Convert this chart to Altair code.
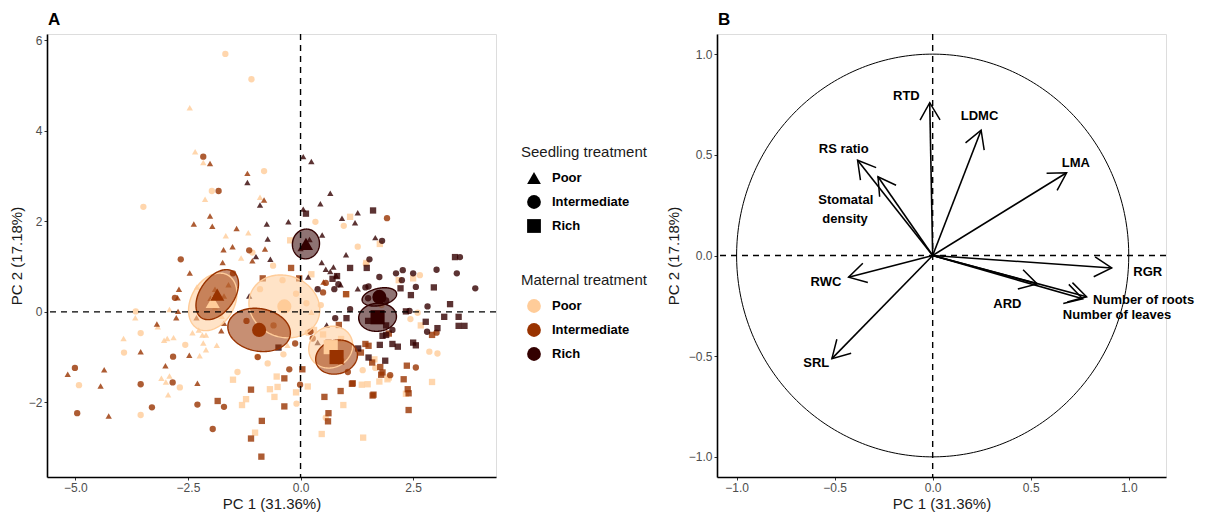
import altair as alt
import numpy as np
import pandas as pd

MATERNAL = ["Poor", "Intermediate", "Rich"]
MAT_COLORS = ["#FFCC99", "#993300", "#330000"]
# trailing spaces keep the two legends apart (their domains must differ) while printing the same words
SEEDLING = ["Poor ", "Intermediate ", "Rich "]
SEED_SHAPES = ["triangle-up", "circle", "square"]

# ---------------- Panel A: individual scores (PC1, PC2) ----------------
# maternal Poor
pp_tri_x = [-2.46, -2.34, -2.16, -2.12, -0.90, -1.66, -1.16, -1.32, -2.91, -3.67, -3.93, -3.03, -2.96, -2.82, -2.40, -2.18,
            -2.16, -2.10, -2.24, -3.09, -2.99, -2.91, -2.94, -2.26, -1.86, -2.10, -0.29, 0.24, -3.17, -1.90, -1.75, -2.30]
pp_tri_y = [4.51, 3.54, 3.30, 2.49, 2.53, 1.68, 1.75, 1.19, 0.05, -0.13, -0.59, -0.63, -0.59, -0.57, -0.46, -0.51,
            -0.69, -0.84, -0.97, -1.47, -1.55, -1.42, -1.83, -0.40, -0.74, -0.51, -0.74, -0.01, -0.33, 0.10, -0.10, 0.55]
pp_cir_x = [-1.67, -1.09, -0.81, -1.97, -3.49, 0.33, 0.96, 1.27, -1.07, -0.61, -3.66, -3.55, -3.92, -2.56, -2.68, -4.92,
            -3.55, -0.38, -0.96, -0.73, -1.40, -0.09, 0.56, 0.16, 0.13, 1.45, 2.65, 1.80, 2.60, 2.44, 2.86, 3.04, 1.66,
            1.38, -0.40, -0.90, -0.10, 0.45]
pp_cir_y = [5.70, 5.14, 3.11, 2.67, 2.32, 1.99, 1.90, 1.44, 1.31, 1.02, 0.01, -0.47, -0.90, -0.73, -1.67, -1.62,
            -2.28, -0.94, -0.99, -1.14, -1.33, -2.03, -2.34, -0.46, 0.19, 1.06, 0.81, 0.15, -0.02, -0.16, -0.88, -0.92,
            -1.24, -1.29, 0.70, 0.50, 0.40, 0.15]
pp_sq_x = [1.10, 1.76, -0.23, 1.46, 2.50, 2.18, 0.24, 1.02, 2.67, 2.92, 1.75, 1.93, 1.96, 1.36, 1.49, 2.34, 0.95, 1.39,
           -1.50, -0.53, -0.68, -0.51, -1.21, -1.30, -0.58, -0.10, -1.01, 0.16, 0.47, 1.64, 0.50, 0.90, 0.30]
pp_sq_y = [2.10, 1.50, 1.58, 1.08, 0.74, 0.70, 0.83, 0.39, -0.30, -1.55, -1.54, -1.49, -1.45, -1.61, -1.60, -1.81,
           -2.06, -2.78, -1.50, -1.43, -1.71, -1.66, -1.93, -2.06, -1.88, -1.78, -2.67, -1.65, -2.70, -1.05, -0.50,
           -0.60, -0.40]
# maternal Intermediate
pi_tri_x = [-2.01, -1.18, -0.81, -2.01, -2.37, -1.96, -1.42, -1.71, -1.51, -0.79, -1.07, -1.73, -2.46, -2.70, -2.73,
            -2.72, -3.19, -2.76, -2.31, -3.55, -2.47, -5.17, -4.36, -3.00, -4.44, -2.29, -4.26, -1.76, -1.70, 0.51,
            -1.90, -2.00, -1.70, -1.60]
pi_tri_y = [3.28, 3.06, 2.47, 2.12, 1.94, 1.89, 1.84, 1.37, 1.44, 1.39, 1.13, 1.09, 0.86, 0.50, 0.31, 0.01, -0.27,
            -0.13, -0.13, -0.88, -0.96, -1.38, -1.28, -1.19, -1.64, -1.58, -2.30, -0.42, -0.25, 0.66, 0.50, 0.30,
            0.35, 0.60]
pi_cir_x = [-2.16, -1.82, -1.14, -2.66, -1.50, -2.79, -2.83, -5.01, -3.55, -2.84, -4.96, -3.30, -2.29, -1.70, -1.95,
            -0.95, -0.12, -0.25, -0.01, 1.92, 0.50, 0.56, 0.22, 0.27, 1.05, 1.99, 2.56, 3.02, -0.60, -1.20]
pi_cir_y = [3.43, 2.67, 1.36, 1.16, 0.85, 0.31, -0.99, -1.24, -1.60, -1.56, -2.24, -2.11, -2.05, -2.10, -2.59, -1.00,
            -0.70, -1.27, -1.61, 2.07, 0.43, 0.64, -0.44, -0.59, -1.33, -1.40, -1.23, -0.46, -0.30, -0.20]
pi_sq_x = [-0.21, -0.84, -0.03, 1.01, 0.85, 0.62, -0.36, -1.10, -1.84, -0.36, -0.86, -1.10, -0.87, 0.04, 0.53, 0.62,
           0.61, 0.89, 1.14, 1.60, 2.40, 2.38, 2.40, 2.29, 2.36, 1.62, 1.16, 1.79, 1.82, 1.77, 1.59, 1.34, 1.44, 1.51,
           1.96, 2.92, 0.70, 0.90]
pi_sq_y = [0.97, 0.74, 0.74, 0.39, -0.29, -0.68, -1.47, -1.72, -1.97, -2.09, -2.41, -2.80, -3.20, -1.27, -1.88, -2.24,
           -2.42, -1.75, -1.59, -1.85, -2.17, -1.71, -1.80, -1.49, -1.19, -1.83, -1.58, -1.39, -1.34, -1.22, -1.12,
           -0.90, -0.71, -0.75, -0.48, -0.51, -0.85, -1.10]
# maternal Rich
pr_tri_x = [-1.18, -0.90, -0.75, -0.73, -0.27, -0.99, -0.67, -1.14, 0.06, 0.24, 0.66, 0.44, 0.06, 0.92, 1.27, 1.21,
            1.66, 1.01, 0.48, 0.47, 0.56, 0.66, 0.73, 0.79, 0.17, 1.27, 0.89, 0.58, 0.38, 0.00, 0.20]
pr_tri_y = [2.86, 2.36, 1.94, 1.61, 1.99, 1.22, 1.16, 0.35, 3.43, 3.32, 2.62, 2.39, 2.27, 2.07, 2.19, 1.97, 1.64,
            1.26, 1.70, 1.09, 0.94, 0.89, 0.99, 0.80, 0.77, 0.51, 0.60, -0.29, -0.68, 1.40, 1.60]
pr_cir_x = [0.38, 0.77, 1.81, 1.53, 3.02, 3.47, 3.88, 2.27, 2.12, 2.50, 2.56, 2.25, 1.75, 2.82, 1.44, 1.51, 1.10,
            2.42, 2.81, 2.04, 0.84, 0.75, 3.54, 1.90, 1.50]
pr_cir_y = [0.50, -0.14, 1.57, 1.16, 0.93, 0.85, 0.52, 0.92, 0.85, 0.85, 0.55, 0.70, 0.77, 0.12, 0.54, 0.56, 0.06,
            0.02, -0.44, -0.40, 0.61, 0.50, 1.21, 0.25, 0.30]
pr_sq_x = [0.12, 1.61, 1.47, 1.10, 3.43, 2.45, 2.96, 2.22, 3.32, 1.02, 3.19, 3.51, 3.51, 3.64, 2.78, 3.04, 1.82, 1.90,
           2.04, 2.16, 1.76, 2.50, 2.56, 1.28, 1.51, 1.88, 2.34, 0.71, 0.81, -0.49, 1.50, 1.90]
pr_sq_y = [2.17, 2.24, 0.97, 0.97, 1.21, 0.37, 0.54, 0.52, 0.17, -0.14, -0.11, -0.11, -0.31, -0.31, -0.22, -0.36,
           -0.53, -0.51, -0.71, -0.77, -0.73, -0.68, -0.74, -0.81, -1.01, -1.08, 0.01, 0.73, 0.79, -0.79, -0.20, -0.30]

# group ellipses and centroids
ell_maternal = ["Poor", "Poor", "Poor", "Intermediate", "Intermediate", "Intermediate", "Rich", "Rich", "Rich"]
ell_seedling = ["Poor ", "Intermediate ", "Rich ", "Poor ", "Intermediate ", "Rich ", "Poor ", "Intermediate ", "Rich "]
ell_cx = [-1.95, -0.36, 0.67, -1.85, -0.92, 0.80, 0.12, 1.75, 1.71]
ell_cy = [0.22, 0.12, -0.78, 0.38, -0.40, -1.00, 1.50, 0.33, -0.12]
ell_a = [0.68, 0.80, 0.50, 0.62, 0.70, 0.47, 0.33, 0.39, 0.42]
ell_b = [0.48, 0.68, 0.45, 0.38, 0.47, 0.37, 0.30, 0.19, 0.31]
ell_angle = [60, -20, 30, 55, -10, 15, 80, 12, 5]

# ---------------- Panel B: variable loadings ----------------
var_names = ["RTD", "LDMC", "LMA", "RS ratio", "Stomatal density", "RGR", "Number of roots",
             "Number of leaves", "ARD", "RWC", "SRL"]
load_x = [-0.015, 0.247, 0.683, -0.383, -0.279, 0.913, 0.785, 0.765, 0.533, -0.429, -0.514]
load_y = [0.759, 0.622, 0.411, 0.473, 0.391, -0.062, -0.205, -0.215, -0.141, -0.108, -0.512]
lab_text = ["RTD", "LDMC", "LMA", "RS ratio", "Stomatal", "density", "RGR", "Number of roots", "Number of leaves",
            "ARD", "RWC", "SRL"]
lab_x = [-0.134, 0.239, 0.73, -0.454, -0.443, -0.447, 1.097, 0.818, 0.664, 0.381, -0.544, -0.594]
lab_y = [0.793, 0.693, 0.46, 0.531, 0.275, 0.18, -0.081, -0.219, -0.294, -0.241, -0.133, -0.534]
lab_align = ["center", "center", "center", "center", "center", "center", "center", "left", "left", "center",
             "center", "center"]

# ---------------- layout constants ----------------
W, H = 449, 443
AX_DOM = [-5.63, 4.34]
AY_DOM = [-3.65, 6.14]
BX_DOM = [-1.10, 1.19]
BY_DOM = [-1.10, 1.10]
FONT = "Liberation Sans"

# ---------------- build panel A data ----------------
groups = [
    ("Poor", SEEDLING[0], pp_tri_x, pp_tri_y), ("Poor", SEEDLING[1], pp_cir_x, pp_cir_y),
    ("Poor", SEEDLING[2], pp_sq_x, pp_sq_y),
    ("Intermediate", SEEDLING[0], pi_tri_x, pi_tri_y), ("Intermediate", SEEDLING[1], pi_cir_x, pi_cir_y),
    ("Intermediate", SEEDLING[2], pi_sq_x, pi_sq_y),
    ("Rich", SEEDLING[0], pr_tri_x, pr_tri_y), ("Rich", SEEDLING[1], pr_cir_x, pr_cir_y),
    ("Rich", SEEDLING[2], pr_sq_x, pr_sq_y),
]
rows = []
for m, s, xs, ys in groups:
    for xv, yv in zip(xs, ys):
        rows.append({"pc1": xv, "pc2": yv, "maternal": m, "seedling": s})
pts = pd.DataFrame(rows)

fill_rows, edge_rows = [], []
for gid, (m, s, cx, cy, a, b, ang) in enumerate(zip(ell_maternal, ell_seedling, ell_cx, ell_cy, ell_a, ell_b,
                                                     ell_angle)):
    th = np.radians(ang)
    c, sn = np.cos(th), np.sin(th)
    A = sn ** 2 / a ** 2 + c ** 2 / b ** 2
    hw = np.sqrt(a ** 2 * c ** 2 + b ** 2 * sn ** 2)
    u = -hw * np.cos(np.linspace(0, np.pi, 120))
    B = 2 * u * sn * c * (1 / a ** 2 - 1 / b ** 2)
    C = u ** 2 * (c ** 2 / a ** 2 + sn ** 2 / b ** 2) - 1
    disc = np.sqrt(np.clip(B ** 2 - 4 * A * C, 0, None))
    v1 = (-B - disc) / (2 * A)
    v2 = (-B + disc) / (2 * A)
    for uu, a1, a2 in zip(u, v1, v2):
        fill_rows.append({"pc1": cx + uu, "pc2": cy + a1, "pc2b": cy + a2, "maternal": m, "gid": gid})
    t = np.linspace(0, 2 * np.pi, 161)
    for k, tt in enumerate(t):
        ex = cx + a * c * np.cos(tt) - b * sn * np.sin(tt)
        ey = cy + a * sn * np.cos(tt) + b * c * np.sin(tt)
        edge_rows.append({"pc1": ex, "pc2": ey, "maternal": m, "gid": gid, "k": k})
ell_fill = pd.DataFrame(fill_rows)
ell_edge = pd.DataFrame(edge_rows)
cent = pd.DataFrame({"pc1": ell_cx, "pc2": ell_cy, "maternal": ell_maternal, "seedling": ell_seedling})

axis_common = dict(grid=False, domainColor="black", domainWidth=1.6, tickColor="#333333", tickSize=3,
                   tickWidth=1, labelColor="#4D4D4D", labelFontSize=12, labelFont=FONT, titleFont=FONT,
                   titleFontSize=15, titleFontWeight="normal", titleColor="#1A1A1A", labelPadding=2)

xA = alt.X("pc1:Q", scale=alt.Scale(domain=AX_DOM, nice=False, zero=False),
           axis=alt.Axis(values=[-5, -2.5, 0, 2.5], format=".1f", title="PC 1 (31.36%)", titlePadding=3,
                         **axis_common))
yA = alt.Y("pc2:Q", scale=alt.Scale(domain=AY_DOM, nice=False, zero=False),
           axis=alt.Axis(values=[-2, 0, 2, 4, 6], format="d", title="PC 2 (17.18%)", titlePadding=4,
                         **axis_common))
col_scale = alt.Scale(domain=MATERNAL, range=MAT_COLORS)
shp_scale = alt.Scale(domain=SEEDLING, range=SEED_SHAPES)

leg_common = dict(orient="none", legendX=474, symbolSize=190, symbolOpacity=1, labelFontWeight="bold",
                  labelFontSize=13, labelFont=FONT, titleFont=FONT, titleFontSize=15, titleFontWeight="normal",
                  titleColor="#1A1A1A", labelColor="black", rowPadding=10, titlePadding=11, labelOffset=11,
                  symbolOffset=6, symbolStrokeWidth=0, padding=0)

points = alt.Chart(pts).mark_point(filled=True, size=40, opacity=0.8).encode(
    x=xA, y=yA,
    color=alt.Color("maternal:N", scale=col_scale, title="Maternal treatment",
                    legend=alt.Legend(legendY=239, symbolType="circle", **leg_common)),
    shape=alt.Shape("seedling:N", scale=shp_scale, title="Seedling treatment",
                    legend=alt.Legend(legendY=111, symbolFillColor="black", symbolStrokeColor="black",
                                      **leg_common)),
)
fills = alt.Chart(ell_fill).mark_area(opacity=0.55).encode(
    x="pc1:Q", y="pc2:Q", y2="pc2b:Q", detail="gid:N",
    color=alt.Color("maternal:N", scale=col_scale, legend=None))
edges = alt.Chart(ell_edge).mark_line(strokeWidth=1.4).encode(
    x="pc1:Q", y="pc2:Q", detail="gid:N", order="k:Q",
    color=alt.Color("maternal:N", scale=col_scale, legend=None))
cents = alt.Chart(cent).mark_point(filled=True, size=200, opacity=1).encode(
    x="pc1:Q", y="pc2:Q",
    color=alt.Color("maternal:N", scale=col_scale, legend=None),
    shape=alt.Shape("seedling:N", scale=shp_scale, legend=None))
hA = alt.Chart(pd.DataFrame({"pc2": [0]})).mark_rule(color="black", strokeWidth=1.4, strokeDash=[6, 5]).encode(
    y="pc2:Q")
vA = alt.Chart(pd.DataFrame({"pc1": [0]})).mark_rule(color="black", strokeWidth=1.4, strokeDash=[6, 5]).encode(
    x="pc1:Q")

panelA = alt.layer(points, fills, edges, cents, hA, vA).properties(
    width=W, height=H,
    title=alt.Title("A", anchor="start", frame="group", fontSize=17, fontWeight="bold", font=FONT,
                    color="black", offset=4, dx=1))

# ---------------- build panel B data ----------------
tt = np.linspace(0, 2 * np.pi, 361)
circ = pd.DataFrame({"ax": np.cos(tt), "ay": np.sin(tt), "k": np.arange(len(tt))})
px_x = W / (BX_DOM[1] - BX_DOM[0])
px_y = H / (BY_DOM[1] - BY_DOM[0])
arrows = pd.DataFrame({"name": var_names, "ax": [0.0] * len(var_names), "ay": [0.0] * len(var_names),
                       "bx": load_x, "by": load_y})
arrows["ang"] = np.mod(np.degrees(np.arctan2(np.array(load_x) * px_x, np.array(load_y) * px_y)), 360)
labels = pd.DataFrame({"text": lab_text, "ax": lab_x, "ay": lab_y, "align": lab_align})

xB = alt.X("ax:Q", scale=alt.Scale(domain=BX_DOM, nice=False, zero=False),
           axis=alt.Axis(values=[-1, -0.5, 0, 0.5, 1], format=".1f", title="PC 1 (31.36%)", titlePadding=3,
                         **axis_common))
yB = alt.Y("ay:Q", scale=alt.Scale(domain=BY_DOM, nice=False, zero=False),
           axis=alt.Axis(values=[-1, -0.5, 0, 0.5, 1], format=".1f", title="PC 2 (17.18%)", titlePadding=7,
                         **axis_common))

circle = alt.Chart(circ).mark_line(color="black", strokeWidth=1).encode(x=xB, y=yB, order="k:Q")
hB = alt.Chart(pd.DataFrame({"ay": [0]})).mark_rule(color="black", strokeWidth=1.4, strokeDash=[6, 5]).encode(
    y="ay:Q")
vB = alt.Chart(pd.DataFrame({"ax": [0]})).mark_rule(color="black", strokeWidth=1.4, strokeDash=[6, 5]).encode(
    x="ax:Q")
shafts = alt.Chart(arrows).mark_rule(color="black", strokeWidth=1.6).encode(
    x="ax:Q", y="ay:Q", x2="bx:Q", y2="by:Q")
heads = alt.Chart(arrows).mark_point(shape="M-0.5,0.866L0,0L0.5,0.866", size=1600, filled=False, color="black",
                                     strokeWidth=1.5, opacity=1).encode(
    x="bx:Q", y="by:Q", angle=alt.Angle("ang:Q", scale=None))
lab_layers = []
for al in ["center", "left"]:
    sub = labels[labels["align"] == al]
    lab_layers.append(alt.Chart(sub).mark_text(font=FONT, fontSize=13, fontWeight="bold", color="black",
                                               align=al, baseline="middle").encode(
        x="ax:Q", y="ay:Q", text="text:N"))

panelB = alt.layer(circle, hB, vB, shafts, heads, *lab_layers).properties(
    width=W, height=H,
    title=alt.Title("B", anchor="start", frame="group", fontSize=17, fontWeight="bold", font=FONT,
                    color="black", offset=4, dx=1))

chart = alt.hconcat(panelA, panelB, spacing=17).resolve_scale(
    x="independent", y="independent").resolve_legend(color="independent", shape="independent").properties(
    padding={"left": 0, "top": 2, "right": 0, "bottom": 0}
).configure_view(stroke=None).configure(font=FONT)

chart.save("out.html", embed_options={"renderer": "svg", "actions": False})
